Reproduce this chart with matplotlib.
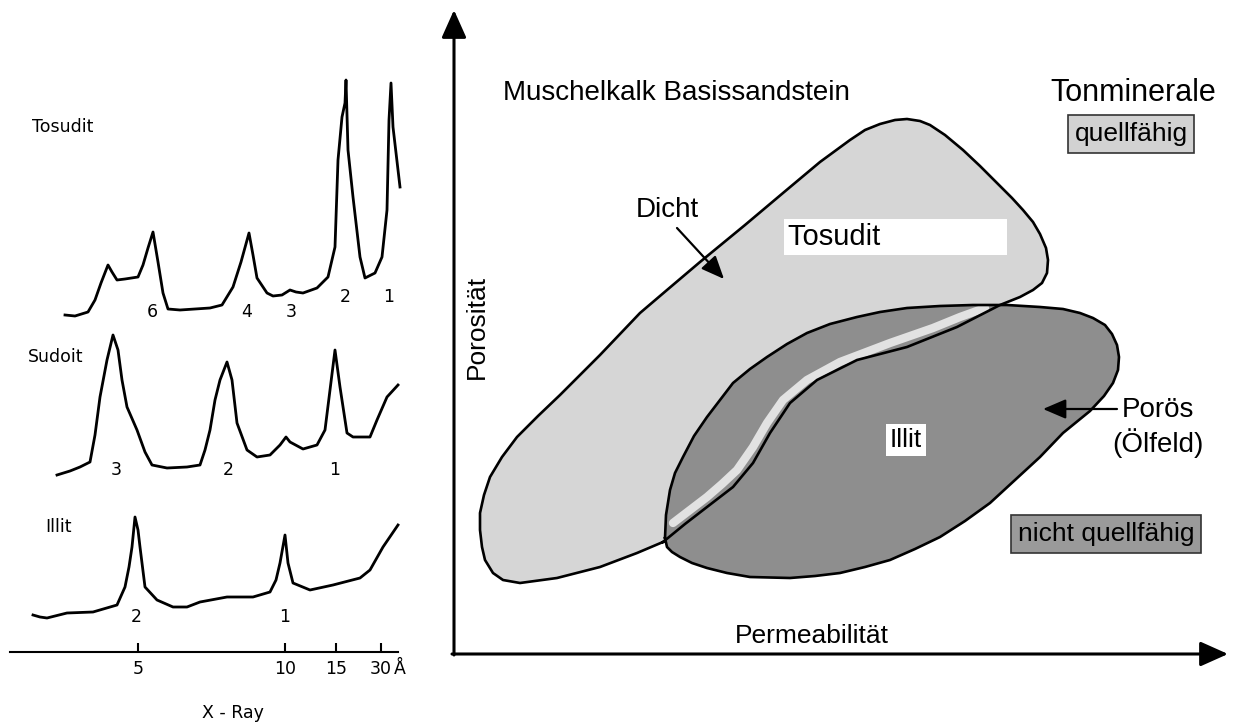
import matplotlib
matplotlib.use("Agg")
import matplotlib.pyplot as plt

# ---- XRD traces (left panel) in pixel coordinates ----
tosudit_x = [65, 75, 88, 95, 101, 108, 112, 117, 125, 138, 143, 148, 153, 158, 163, 168, 180, 195,
             210, 222, 233, 241, 249, 253, 257, 267, 273, 282, 290, 296, 303, 317, 328, 335, 338,
             342, 345, 346, 348, 353, 360, 365, 375, 382, 387, 389, 391, 393, 400]
tosudit_y = [315, 316, 312, 300, 283, 265, 272, 280, 279, 277, 265, 248, 232, 262, 293, 309, 310, 309,
             308, 305, 287, 262, 233, 255, 278, 293, 296, 295, 290, 292, 293, 288, 277, 247, 160,
             117, 103, 80, 150, 197, 257, 278, 273, 257, 210, 120, 83, 127, 187]

sudoit_x = [57, 70, 80, 90, 95, 100, 107, 113, 118, 122, 127, 137, 145, 152, 167, 187, 200, 205, 210,
            215, 220, 227, 232, 237, 247, 257, 270, 280, 286, 290, 303, 317, 325, 330, 335, 340, 347,
            353, 370, 377, 387, 398]
sudoit_y = [475, 471, 467, 462, 435, 397, 360, 335, 350, 380, 407, 430, 452, 465, 468, 467, 465, 450, 430,
            400, 380, 362, 380, 423, 450, 457, 455, 445, 437, 442, 449, 445, 430, 390, 350, 387, 433,
            437, 437, 420, 397, 385]

illit_x = [33, 40, 47, 67, 93, 117, 125, 129, 132, 135, 138, 140, 145, 157, 173, 187, 200, 227, 253,
           270, 276, 280, 285, 288, 293, 310, 333, 360, 370, 383, 398]
illit_y = [615, 617, 618, 613, 612, 605, 587, 567, 547, 517, 530, 547, 587, 600, 607, 607, 602, 597, 597,
           592, 580, 563, 535, 563, 583, 590, 585, 578, 570, 547, 525]

tosudit_peaks = ["6", "4", "3", "2", "1"]
tosudit_peak_x = [152, 247, 291, 345, 389]
tosudit_peak_y = [312, 312, 312, 297, 297]
sudoit_peaks = ["3", "2", "1"]
sudoit_peak_x = [116, 228, 335]
illit_peaks = ["2", "1"]
illit_peak_x = [136, 285]

xray_ticks = ["5", "10", "15", "30"]
xray_tick_x = [138, 285, 336, 381]

# ---- porosity / permeability field (right panel) ----
tosudit_field = [(663, 542), (637, 553), (600, 567), (557, 578), (520, 583), (503, 580), (493, 573),
                 (485, 560), (482, 547), (480, 530), (480, 513), (484, 495), (490, 477), (502, 457),
                 (517, 437), (538, 416), (560, 395), (600, 355), (640, 313), (667, 290), (700, 262),
                 (745, 225), (783, 193), (820, 162), (850, 140), (865, 130), (880, 124), (895, 120),
                 (907, 119), (920, 121), (930, 125), (945, 135), (963, 150), (980, 166), (997, 183),
                 (1012, 198), (1023, 210), (1033, 222), (1040, 234), (1046, 248), (1048, 260),
                 (1047, 273), (1042, 283), (1033, 290), (1020, 297), (1000, 305), (957, 327),
                 (907, 347), (857, 360), (817, 380), (790, 403), (770, 433), (753, 463), (733, 487),
                 (707, 507), (685, 524), (663, 542)]

illit_field = [(665, 538), (666, 515), (670, 490), (675, 473), (683, 457), (694, 436), (707, 417),
               (720, 400), (733, 383), (750, 369), (767, 357), (787, 344), (807, 333), (830, 324),
               (857, 317), (880, 312), (907, 308), (940, 306), (973, 305), (1007, 305), (1040, 307),
               (1063, 309), (1080, 313), (1093, 318), (1105, 325), (1112, 334), (1117, 345),
               (1119, 357), (1118, 370), (1113, 383), (1104, 396), (1090, 411), (1063, 433),
               (1040, 457), (1015, 480), (990, 503), (965, 521), (940, 537), (915, 549), (890, 560),
               (865, 567), (840, 573), (815, 576), (790, 578), (750, 577), (727, 573), (707, 568),
               (692, 563), (680, 557), (672, 552), (667, 547), (665, 538)]

# light strip along the Tosudit border inside the overlap
strip = [(673, 523), (690, 510), (707, 497), (722, 484), (737, 470), (753, 447), (767, 423),
         (783, 400), (807, 380), (840, 362), (890, 343), (933, 328), (960, 317), (985, 308)]

fig = plt.figure(figsize=(12.34, 7.26), dpi=100)
ax = fig.add_axes([0, 0, 1, 1])
ax.set_xlim(0, 1234)
ax.set_ylim(726, 0)
ax.axis("off")

left_font = "DejaVu Sans"
right_font = "Liberation Sans"

# left panel: traces
for xs, ys in [(tosudit_x, tosudit_y), (sudoit_x, sudoit_y), (illit_x, illit_y)]:
    ax.plot(xs, ys, color="black", lw=2.0, solid_joinstyle="round")

ax.text(32, 127, "Tosudit", fontsize=12.5, family=left_font, va="center")
ax.text(28, 357, "Sudoit", fontsize=12.5, family=left_font, va="center")
ax.text(45, 527, "Illit", fontsize=12.5, family=left_font, va="center")

for lab, x, y in zip(tosudit_peaks, tosudit_peak_x, tosudit_peak_y):
    ax.text(x, y, lab, fontsize=12.5, family=left_font, ha="center", va="center")
for lab, x in zip(sudoit_peaks, sudoit_peak_x):
    ax.text(x, 470, lab, fontsize=12.5, family=left_font, ha="center", va="center")
for lab, x in zip(illit_peaks, illit_peak_x):
    ax.text(x, 617, lab, fontsize=12.5, family=left_font, ha="center", va="center")

ax.plot([10, 398], [652, 652], color="black", lw=1.5)
ax.vlines(xray_tick_x, 643, 652, color="black", lw=1.5)
for lab, x in zip(xray_ticks, xray_tick_x):
    ax.text(x, 669, lab, fontsize=12.5, family=left_font, ha="center", va="center")
ax.text(400, 669, "Å", fontsize=12.5, family=left_font, ha="center", va="center")
ax.text(233, 713, "X - Ray", fontsize=12.5, family=left_font, ha="center", va="center")

# right panel: fields
ax.fill([p[0] for p in tosudit_field], [p[1] for p in tosudit_field],
        facecolor="#d6d6d6", edgecolor="none", zorder=1)
ax.fill([p[0] for p in illit_field], [p[1] for p in illit_field],
        facecolor="#8e8e8e", edgecolor="none", zorder=2)
ax.plot([p[0] for p in strip], [p[1] for p in strip], color="#e2e2e2", lw=6,
        solid_capstyle="round", zorder=3)
ax.plot([p[0] for p in tosudit_field], [p[1] for p in tosudit_field], color="black", lw=1.9,
        solid_joinstyle="round", zorder=4)
ax.plot([p[0] for p in illit_field], [p[1] for p in illit_field], color="black", lw=1.9,
        solid_joinstyle="round", zorder=4)

# axes arrows
arrow_style = "-|>,head_length=0.85,head_width=0.38"
ax.annotate("", xy=(454, 10), xytext=(454, 655),
            arrowprops=dict(arrowstyle=arrow_style, color="black", lw=2.2,
                            mutation_scale=20, shrinkA=0, shrinkB=0))
ax.annotate("", xy=(1228, 654), xytext=(452, 654),
            arrowprops=dict(arrowstyle=arrow_style, color="black", lw=2.2,
                            mutation_scale=20, shrinkA=0, shrinkB=0))

ax.text(812, 636, "Permeabilität", fontsize=19, family=right_font, ha="center", va="center")
ax.text(477, 327, "Porosität", fontsize=19, family=right_font, ha="center", va="center",
        rotation=90)
ax.text(503, 93, "Muschelkalk Basissandstein", fontsize=20, family=right_font, va="center")
ax.text(1133, 93, "Tonminerale", fontsize=22, family=right_font, ha="center", va="center")

ax.text(1131, 134, "quellfähig", fontsize=19, family=right_font, ha="center", va="center",
        bbox=dict(boxstyle="square,pad=0.25", facecolor="#d2d2d2", edgecolor="#333333", lw=1.2),
        zorder=5)
ax.text(1106, 534, "nicht quellfähig", fontsize=19, family=right_font, ha="center", va="center",
        bbox=dict(boxstyle="square,pad=0.25", facecolor="#9a9a9a", edgecolor="#333333", lw=1.2),
        zorder=5)

# field labels
ax.text(788, 237, "Tosudit" + " " * 15, fontsize=21, family=right_font, va="center",
        bbox=dict(boxstyle="square,pad=0.15", facecolor="white", edgecolor="none"), zorder=5)
ax.text(906, 440, "Illit", fontsize=19, family=right_font, ha="center", va="center",
        bbox=dict(boxstyle="square,pad=0.15", facecolor="white", edgecolor="none"), zorder=5)

ax.text(667, 210, "Dicht", fontsize=20, family=right_font, ha="center", va="center")
ax.annotate("", xy=(724, 279), xytext=(677, 228),
            arrowprops=dict(arrowstyle="-|>,head_length=0.7,head_width=0.3", color="black",
                            lw=1.6, mutation_scale=20, shrinkA=0, shrinkB=0), zorder=6)

ax.text(1158, 410, "Porös", fontsize=20, family=right_font, ha="center", va="center")
ax.text(1158, 443, "(Ölfeld)", fontsize=20, family=right_font, ha="center", va="center")
ax.annotate("", xy=(1043, 409), xytext=(1117, 409),
            arrowprops=dict(arrowstyle="-|>,head_length=0.7,head_width=0.3", color="black",
                            lw=1.6, mutation_scale=20, shrinkA=0, shrinkB=0), zorder=6)

fig.savefig("out.png", dpi=100, facecolor="white")
